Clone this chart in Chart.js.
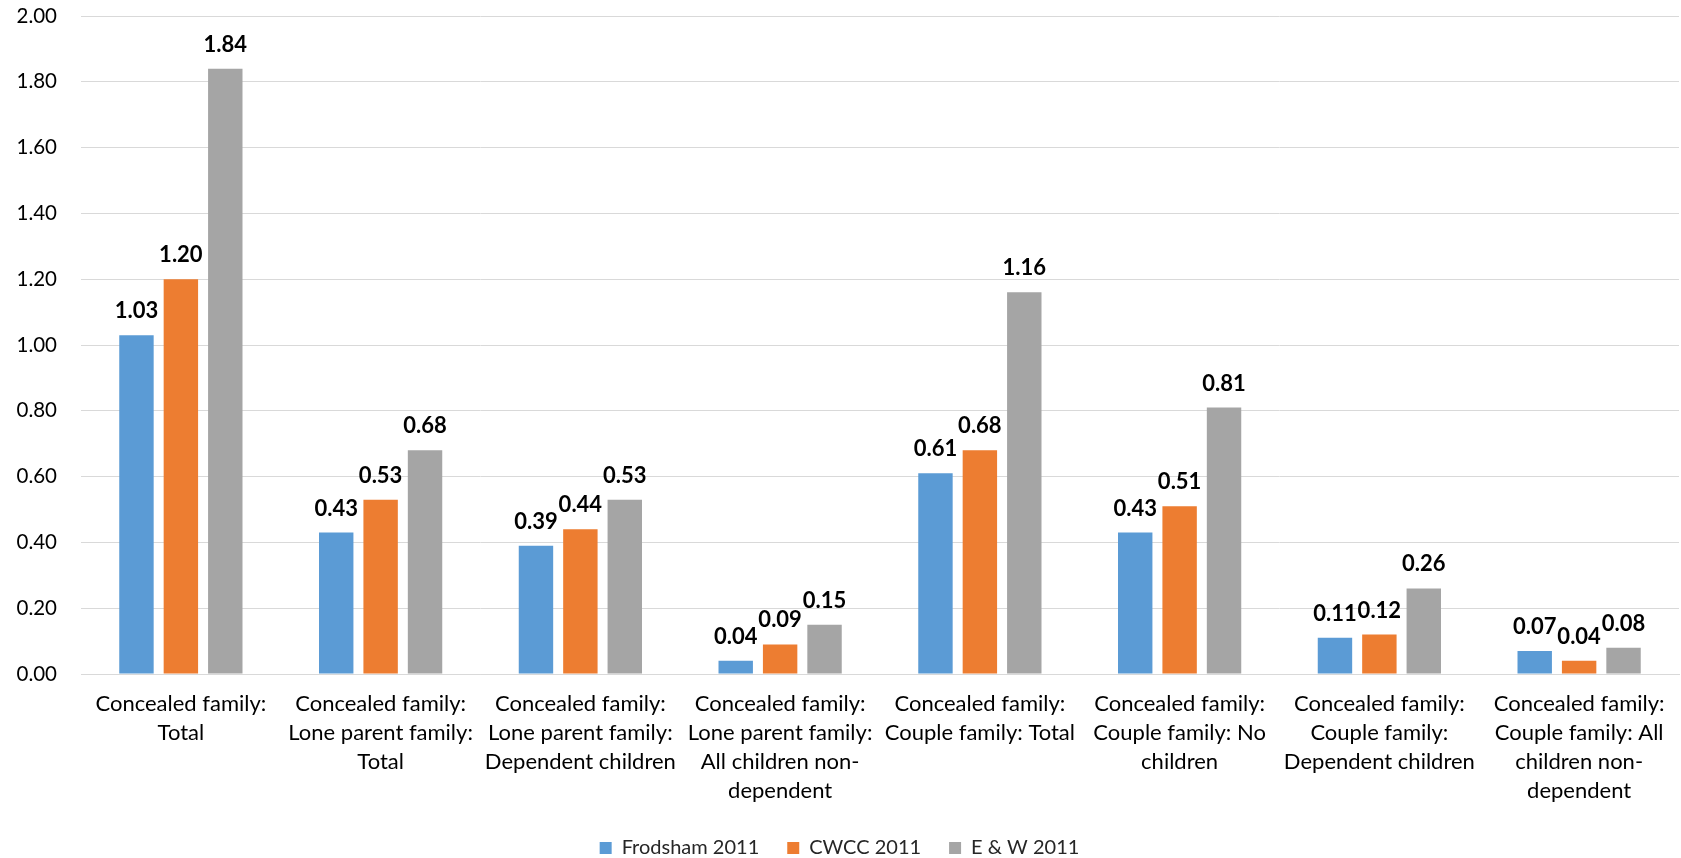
<!DOCTYPE html>
<html>
<head>
<meta charset="utf-8">
<script src="https://cdn.jsdelivr.net/npm/chart.js@4/dist/chart.umd.min.js"></script>
<style>
  html, body { margin: 0; padding: 0; background: #ffffff; }
  #wrap { width: 1681px; height: 858px; position: relative; }
</style>
</head>
<body>
<div id="wrap"><canvas id="chart" width="1681" height="858"></canvas></div>
<script>
// Category labels, one array of lines per category
const categories = [
  ["Concealed family:", "Total"],
  ["Concealed family:", "Lone parent family:", "Total"],
  ["Concealed family:", "Lone parent family:", "Dependent children"],
  ["Concealed family:", "Lone parent family:", "All children non-", "dependent"],
  ["Concealed family:", "Couple family: Total"],
  ["Concealed family:", "Couple family: No", "children"],
  ["Concealed family:", "Couple family:", "Dependent children"],
  ["Concealed family:", "Couple family: All", "children non-", "dependent"]
];

const seriesNames = ["Frodsham 2011", "CWCC 2011", "E & W 2011"];
const frodsham = [1.03, 0.43, 0.39, 0.04, 0.61, 0.43, 0.11, 0.07];
const cwcc     = [1.20, 0.53, 0.44, 0.09, 0.68, 0.51, 0.12, 0.04];
const ew       = [1.84, 0.68, 0.53, 0.15, 1.16, 0.81, 0.26, 0.08];

const seriesColors = ["#5B9BD5", "#ED7D31", "#A5A5A5"];
const yTicks = [0, 0.2, 0.4, 0.6, 0.8, 1.0, 1.2, 1.4, 1.6, 1.8, 2.0];

const FONT = "Lato, 'Open Sans', sans-serif";

// Draws the bold value above each bar
const valueLabels = {
  id: 'valueLabels',
  afterDatasetsDraw(chart) {
    const ctx = chart.ctx;
    ctx.save();
    ctx.font = "bold 22px " + FONT;
    ctx.fillStyle = "#000000";
    ctx.textAlign = "center";
    ctx.textBaseline = "alphabetic";
    chart.data.datasets.forEach((ds, i) => {
      const meta = chart.getDatasetMeta(i);
      meta.data.forEach((bar, j) => {
        ctx.fillText(ds.data[j].toFixed(2), bar.x, bar.y - 17);
      });
    });
    ctx.restore();
  }
};

const values = [frodsham, cwcc, ew];

new Chart(document.getElementById('chart'), {
  type: 'bar',
  data: {
    labels: categories,
    datasets: seriesNames.map((name, i) => ({
      label: name,
      data: values[i],
      backgroundColor: seriesColors[i],
      borderWidth: 0,
      categoryPercentage: 0.667,
      barPercentage: 0.775
    }))
  },
  options: {
    responsive: false,
    animation: false,
    devicePixelRatio: 1,
    layout: { padding: { top: 16, right: 2, left: 0, bottom: -10 } },
    plugins: {
      legend: {
        position: 'bottom',
        labels: {
          boxWidth: 12,
          boxHeight: 12,
          padding: 28,
          color: "#262626",
          font: { family: FONT, size: 20 }
        }
      },
      tooltip: { enabled: false }
    },
    scales: {
      x: {
        grid: { display: false, drawTicks: false },
        border: { display: true, color: "#D9D9D9", width: 1 },
        ticks: {
          color: "#000000",
          font: { family: FONT, size: 22, lineHeight: 29 / 22 },
          padding: 15,
          maxRotation: 0,
          autoSkip: false
        },
        afterFit(scale) { scale.height = 136; }
      },
      y: {
        min: 0,
        max: 2,
        afterBuildTicks(scale) { scale.ticks = yTicks.map(v => ({ value: v })); },
        grid: { color: "#D9D9D9", lineWidth: 1, drawTicks: false },
        border: { display: false },
        ticks: {
          color: "#000000",
          font: { family: FONT, size: 20.5 },
          padding: 24,
          callback: v => Number(v).toFixed(2)
        },
        afterFit(scale) {
          scale.width = 81;
          scale.paddingTop = 0;
          scale.paddingBottom = 0;
        }
      }
    }
  },
  plugins: [valueLabels]
});
</script>
</body>
</html>
